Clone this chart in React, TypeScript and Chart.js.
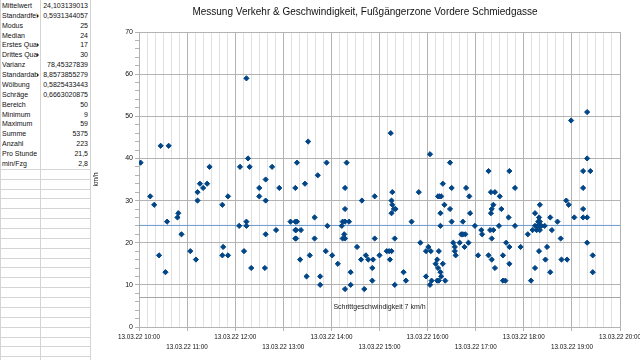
import React, { useEffect, useRef } from "react";
import { Chart, registerables } from "chart.js";

Chart.register(...registerables);

const FONT = '"Liberation Sans", Arial, sans-serif';
const TITLE = "Messung Verkehr & Geschwindigkeit, Fußgängerzone Vordere Schmiedgasse";
const DATE_PREFIX = "13.03.22";
const X_START = "10:00";
const X_END = "20:00";
const Y_MIN = 0;
const Y_MAX = 70;
const Y_TITLE = "km/h";
const MEAN_SPEED = 24.103139013;
const WALKING_SPEED = 7;
const WALKING_LABEL = "Schrittgeschwindigkeit 7 km/h";

// measurement times (13.03.22) and speeds (km/h)
const TIMES = [
  "10:02", "10:14", "10:19", "10:25", "10:27", "10:33", "10:35", "10:37", "10:48", "10:49", "10:53",
  "11:04", "11:11", "11:13", "11:13", "11:16", "11:20", "11:25", "11:28", "11:44", "11:44", "11:45", "11:51", "11:51",
  "12:05", "12:06", "12:11", "12:14", "12:14", "12:14", "12:16", "12:18", "12:20",
  "12:30", "12:30", "12:37", "12:38", "12:38", "12:38", "12:46", "12:51", "12:55",
  "13:09", "13:15", "13:15", "13:15", "13:15", "13:16", "13:16", "13:17", "13:17", "13:21", "13:22", "13:27", "13:29",
  "13:31", "13:33", "13:39", "13:39", "13:43", "13:46", "13:46", "13:53", "13:54", "13:55",
  "14:01", "14:08", "14:13", "14:14", "14:14", "14:16", "14:17", "14:17", "14:17", "14:17", "14:17", "14:19", "14:22",
  "14:24", "14:24", "14:32", "14:37", "14:38", "14:41", "14:43", "14:46",
  "14:51", "14:51", "14:52", "14:54", "14:54", "15:00", "15:09", "15:12", "15:13", "15:14", "15:15", "15:15", "15:15",
  "15:16", "15:16", "15:18", "15:19", "15:19", "15:20", "15:30", "15:33", "15:40", "15:49", "15:51", "15:58", "15:58",
  "16:01", "16:03", "16:03", "16:04", "16:05", "16:10", "16:12", "16:12", "16:13", "16:13", "16:14", "16:14", "16:15",
  "16:16", "16:16", "16:16", "16:17", "16:17", "16:19", "16:19", "16:21", "16:22", "16:28", "16:28", "16:30", "16:30",
  "16:32", "16:34", "16:34", "16:35", "16:40", "16:42", "16:44", "16:44", "16:46", "16:47", "16:48", "16:51", "16:52",
  "16:53", "16:59", "17:03", "17:07", "17:08",
  "17:16", "17:16", "17:18", "17:19", "17:19", "17:20", "17:20", "17:20", "17:22", "17:22", "17:24", "17:24", "17:29",
  "17:30", "17:32", "17:34", "17:34", "17:37", "17:38", "17:41", "17:42", "17:42", "17:42", "17:49", "17:49", "17:56",
  "18:05", "18:09", "18:11", "18:14", "18:14", "18:14", "18:16", "18:17", "18:18", "18:19", "18:19", "18:19", "18:20",
  "18:20", "18:20", "18:22", "18:26", "18:27", "18:29", "18:33", "18:33", "18:35", "18:42", "18:46", "18:47", "18:53",
  "18:54", "18:56", "18:59", "19:03", "19:14", "19:14", "19:14", "19:14", "19:19", "19:19", "19:19", "19:19", "19:23",
  "19:26", "19:26",
];
const SPEEDS = [
  39, 31, 29, 17, 43, 13, 25, 43, 26, 27, 22,
  18, 16, 30, 32, 34, 33, 34, 38, 29, 17, 19, 31, 17,
  24, 38, 18, 25, 24, 59, 40, 38, 14,
  31, 33, 14, 35, 30, 22, 38, 23, 33,
  25, 33, 25, 23, 21, 21, 23, 39, 25, 16, 23, 34, 12,
  44, 17, 26, 21, 36, 12, 10, 18, 39, 24,
  17, 15, 24, 25, 21, 22, 25, 28, 33, 21, 9, 39, 25,
  13, 10, 19, 16, 30, 9, 17, 16,
  14, 11, 16, 31, 21, 17, 18, 18, 16, 46, 18, 30, 27,
  32, 29, 28, 21, 10, 28, 13, 11, 25, 32, 20, 18, 12,
  19, 41, 10, 18, 11, 15, 16, 11, 31, 14, 18, 11, 31,
  13, 27, 24, 12, 31, 15, 34, 29, 11, 39, 28, 33, 25,
  20, 19, 18, 17, 20, 22, 22, 25, 19, 22, 33, 20, 31,
  27, 24, 17, 23, 22,
  37, 17, 23, 32, 27, 28, 21, 16, 29, 23, 14, 32, 24,
  31, 28, 11, 17, 11, 20, 26, 37, 19, 15, 24, 33, 19,
  22, 11, 23, 27, 14, 24, 23, 24, 25, 26, 24, 18, 29,
  25, 23, 24, 24, 16, 19, 26, 13, 23, 25, 21, 16, 30,
  16, 29, 49, 26, 33, 28, 37, 26, 26, 51, 40, 20, 37,
  17, 13,
];

// statistics block on the left of the sheet
const STAT_LABELS = [
  "Mittelwert", "Standardfehler", "Modus", "Median", "Erstes Quartil", "Drittes Quartil", "Varianz",
  "Standardabweichung", "Wölbung", "Schräge", "Bereich", "Minimum", "Maximum", "Summe", "Anzahl",
  "Pro Stunde", "min/Fzg",
];
const STAT_VALUES = [
  "24,103139013", "0,5931344057", "25", "24", "17", "30", "78,45327839", "8,8573855279", "0,5825433443",
  "0,6663020875", "50", "9", "59", "5375", "223", "21,5", "2,8",
];

const ROW_H = 9.87;
const COL_A = 39.5;
const COL_B = 89.5;
const SHEET_LINE = "#d4d4d4";

const toMinutes = (t: string) => {
  const [h, m] = t.split(":").map(Number);
  return h * 60 + m;
};
const pad2 = (n: number) => String(n).padStart(2, "0");
const fmtTime = (v: number) => `${DATE_PREFIX} ${pad2(Math.floor(v / 60))}:${pad2(v % 60)}`;

let measureCtx: CanvasRenderingContext2D | null = null;
const textWidth = (s: string, font: string) => {
  if (!measureCtx) measureCtx = document.createElement("canvas").getContext("2d");
  if (!measureCtx) return 0;
  measureCtx.font = font;
  return measureCtx.measureText(s).width;
};

function StatsSheet() {
  const nLines = Math.ceil(360 / ROW_H) + 1;
  const lines: number[] = [];
  for (let k = STAT_LABELS.length; k < nLines; k++) lines.push(1 + ROW_H * k);
  return (
    <div style={{ position: "absolute", left: 0, top: 0, width: 90, height: 360, background: "#fff" }}>
      {lines.map((y, i) => (
        <div key={"h" + i} style={{ position: "absolute", left: 0, top: y, width: COL_B, height: 1, background: SHEET_LINE }} />
      ))}
      <div style={{ position: "absolute", left: 0, top: 0, width: 1, height: 360, background: SHEET_LINE }} />
      <div style={{ position: "absolute", left: COL_A, top: 0, width: 1, height: 360, background: SHEET_LINE }} />
      <div style={{ position: "absolute", left: COL_B, top: 0, width: 1, height: 360, background: SHEET_LINE }} />
      {STAT_LABELS.map((lab, i) => {
        const clipped = textWidth(lab, `7px ${FONT}`) > COL_A - 3;
        return (
          <React.Fragment key={lab}>
            <div
              style={{
                position: "absolute", left: 2, top: 1 + ROW_H * i, width: COL_A - 5, height: ROW_H,
                lineHeight: ROW_H + "px", fontSize: 7, color: "#111", whiteSpace: "nowrap", overflow: "hidden",
              }}
            >
              {lab}
            </div>
            {clipped && (
              <div
                style={{
                  position: "absolute", left: COL_A - 3, top: 1 + ROW_H * i + 3, width: 0, height: 0,
                  borderTop: "2px solid transparent", borderBottom: "2px solid transparent", borderLeft: "2.5px solid #222",
                }}
              />
            )}
            <div
              style={{
                position: "absolute", left: COL_A + 1, top: 1 + ROW_H * i, width: COL_B - COL_A - 2.5, height: ROW_H,
                lineHeight: ROW_H + "px", fontSize: 7, color: "#111", textAlign: "right", whiteSpace: "nowrap",
              }}
            >
              {STAT_VALUES[i]}
            </div>
          </React.Fragment>
        );
      })}
    </div>
  );
}

const walkingLabelPlugin = {
  id: "walkingLabel",
  afterDatasetsDraw(chart: any) {
    const { ctx, chartArea, scales } = chart;
    const y = scales.y.getPixelForValue(WALKING_SPEED) + 10;
    ctx.save();
    ctx.font = `7px ${FONT}`;
    ctx.fillStyle = "#222";
    ctx.textAlign = "center";
    ctx.textBaseline = "middle";
    ctx.fillText(WALKING_LABEL, (chartArea.left + chartArea.right) / 2, y);
    ctx.restore();
  },
};

export default function App() {
  const ref = useRef<HTMLCanvasElement>(null);

  useEffect(() => {
    const xMin = toMinutes(X_START);
    const xMax = toMinutes(X_END);
    const points = TIMES.map((t, i) => ({ x: toMinutes(t), y: SPEEDS[i] }));
    const chart = new Chart(ref.current as HTMLCanvasElement, {
      type: "scatter",
      data: {
        datasets: [
          {
            label: Y_TITLE,
            data: points,
            pointStyle: "rectRot",
            pointRadius: 2.6,
            backgroundColor: "#004586",
            borderColor: "#004586",
            borderWidth: 1,
            order: 0,
          },
          {
            label: "Mittelwert",
            data: [{ x: xMin, y: MEAN_SPEED }, { x: xMax, y: MEAN_SPEED }],
            showLine: true,
            pointRadius: 0,
            borderColor: "#6a98cd",
            borderWidth: 1,
            order: 1,
          },
          {
            label: WALKING_LABEL,
            data: [{ x: xMin, y: WALKING_SPEED }, { x: xMax, y: WALKING_SPEED }],
            showLine: true,
            pointRadius: 0,
            borderColor: "#a6a6a6",
            borderWidth: 1,
            order: 2,
          },
        ],
      } as any,
      options: {
        animation: false,
        responsive: false,
        maintainAspectRatio: false,
        layout: { padding: { left: 0, right: 0, top: 0, bottom: 0 } },
        plugins: {
          legend: { display: false },
          tooltip: { enabled: false },
          title: {
            display: true,
            text: TITLE,
            color: "#111",
            font: { family: FONT, size: 10, weight: "normal" as any },
            padding: { top: 6, bottom: 14 },
          },
        },
        scales: {
          x: {
            type: "linear",
            min: xMin,
            max: xMax,
            afterFit: (s: any) => {
              s.height = 33;
              s.paddingLeft = 0;
              s.paddingRight = 20;
            },
            border: { color: "#b3b3b3" },
            grid: {
              color: (c: any) => (c.tick && c.tick.value % 60 === 0 ? "#b3b3b3" : "#e0e0e0"),
              tickColor: (c: any) => (c.tick && c.tick.value % 60 === 0 ? "#b3b3b3" : "rgba(0,0,0,0)"),
              tickLength: 4,
            },
            ticks: {
              stepSize: 10,
              autoSkip: false,
              maxRotation: 0,
              minRotation: 0,
              maxTicksLimit: 1000,
              padding: 2,
              color: "#111",
              font: { family: FONT, size: 6.3, lineHeight: 1.5 },
              callback: (v: any) => {
                const n = Number(v);
                if (n % 60 !== 0) return "";
                const s = fmtTime(n);
                return (n / 60) % 2 === 0 ? [s, ""] : ["", s];
              },
            },
          },
          y: {
            min: Y_MIN,
            max: Y_MAX,
            afterFit: (s: any) => {
              s.width = 49;
              s.paddingTop = 0;
              s.paddingBottom = 0;
            },
            border: { color: "#b3b3b3" },
            grid: {
              color: (c: any) => (c.tick && c.tick.value % 10 === 0 ? "#b3b3b3" : "rgba(0,0,0,0)"),
              tickColor: "#b3b3b3",
              tickLength: 4,
            },
            ticks: {
              stepSize: 2,
              autoSkip: false,
              maxTicksLimit: 1000,
              padding: 2,
              color: "#111",
              font: { family: FONT, size: 7 },
              callback: (v: any) => (Number(v) % 10 === 0 ? String(v) : ""),
            },
            title: {
              display: true,
              text: Y_TITLE,
              color: "#111",
              font: { family: FONT, size: 6.5 },
              padding: { top: 2, bottom: 0 },
            },
          },
        },
      } as any,
      plugins: [walkingLabelPlugin],
    });
    return () => chart.destroy();
  }, []);

  return (
    <div
      style={{
        position: "fixed", left: 0, top: 0, width: 640, height: 360, background: "#fff",
        overflow: "hidden", fontFamily: FONT,
      }}
    >
      <StatsSheet />
      <canvas
        ref={ref}
        width={550}
        height={360}
        style={{ position: "absolute", left: 90, top: 0, width: 550, height: 360 }}
      />
    </div>
  );
}
